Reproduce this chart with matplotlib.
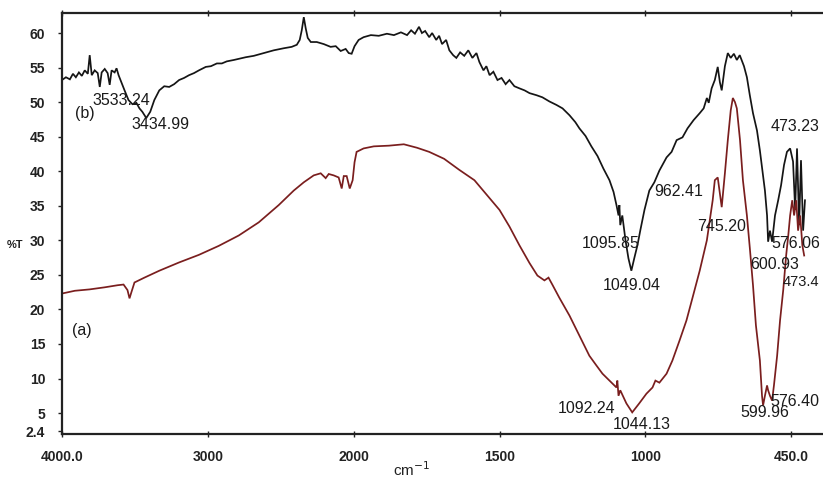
import numpy as np
import matplotlib
matplotlib.use("Agg")
import matplotlib.pyplot as plt

# ---------------- data (wavenumber cm-1, %T) ----------------
curve_b = [(4000, 53.2), (3973, 53.6), (3946, 53.3), (3925, 54.1), (3905, 53.6), (3884, 54.3),
           (3864, 53.8), (3844, 54.6), (3823, 54.1), (3810, 56.8), (3796, 53.9), (3776, 54.6),
           (3755, 54.2), (3741, 52.2), (3728, 54.3), (3707, 54.8), (3687, 54.2), (3673, 52.5),
           (3660, 54.6), (3639, 54.3), (3626, 54.9), (3612, 53.9), (3599, 53.2), (3571, 51.7),
           (3544, 50.3), (3517, 49.7), (3490, 49.9), (3469, 49.1), (3449, 48.6), (3422, 47.7),
           (3395, 48.6), (3367, 50.3), (3333, 51.7), (3299, 52.3), (3265, 52.2), (3231, 52.6),
           (3197, 53.2), (3163, 53.5), (3129, 53.9), (3095, 54.2), (3061, 54.6), (3014, 55.1),
           (2979, 55.2), (2938, 55.6), (2904, 55.6), (2870, 55.9), (2822, 56.1), (2740, 56.5),
           (2685, 56.7), (2616, 57.1), (2548, 57.5), (2479, 57.8), (2425, 58.0), (2390, 58.3),
           (2370, 59.0), (2356, 60.4), (2342, 62.3), (2329, 60.7), (2315, 59.3), (2294, 58.7),
           (2253, 58.7), (2205, 58.4), (2158, 58.0), (2123, 58.1), (2089, 57.4), (2055, 57.7),
           (2034, 57.1), (2014, 57.0), (1997, 58.1), (1983, 59.0), (1966, 59.4), (1941, 59.7),
           (1914, 59.6), (1886, 59.9), (1862, 59.7), (1838, 60.1), (1817, 59.7), (1803, 60.4),
           (1790, 59.9), (1776, 60.9), (1766, 60.0), (1755, 60.3), (1741, 59.4), (1731, 60.0),
           (1717, 59.0), (1707, 59.6), (1697, 58.4), (1683, 59.0), (1672, 57.5), (1659, 56.8),
           (1648, 56.4), (1635, 57.2), (1621, 56.7), (1607, 57.5), (1593, 56.4), (1579, 57.1),
           (1569, 55.8), (1555, 54.6), (1545, 55.2), (1534, 53.9), (1521, 54.4), (1507, 53.2),
           (1493, 53.5), (1479, 52.6), (1466, 53.2), (1449, 52.3), (1432, 52.0), (1414, 51.7),
           (1397, 51.3), (1373, 51.0), (1353, 50.7), (1329, 50.1), (1305, 49.6), (1284, 49.1),
           (1260, 48.1), (1240, 47.1), (1226, 46.2), (1205, 45.1), (1185, 43.6), (1164, 42.2),
           (1144, 40.4), (1123, 38.7), (1109, 37.0), (1099, 35.1), (1092, 33.6), (1089, 35.1),
           (1086, 32.2), (1079, 33.6), (1068, 30.0), (1058, 27.4), (1048, 25.6), (1038, 27.4),
           (1027, 29.3), (1017, 31.5), (1003, 34.4), (985, 37.2), (966, 38.4), (947, 40.1),
           (920, 42.0), (901, 42.8), (882, 44.5), (860, 44.9), (841, 46.2), (818, 47.4),
           (795, 48.4), (780, 49.1), (768, 50.6), (761, 49.9), (750, 52.0), (738, 53.2),
           (727, 55.1), (719, 52.9), (712, 51.7), (700, 55.2), (689, 57.1), (678, 56.4),
           (666, 57.0), (655, 56.1), (644, 56.8), (628, 55.2), (617, 53.6), (606, 51.0),
           (594, 48.4), (579, 45.9), (568, 43.0), (556, 39.4), (549, 37.2), (541, 33.6),
           (537, 29.8), (530, 31.4), (522, 29.8), (511, 33.6), (499, 35.8), (488, 38.0),
           (477, 40.9), (466, 42.8), (454, 43.3), (443, 41.4), (435, 34.4), (428, 43.3),
           (420, 32.2), (413, 41.6), (405, 31.4), (398, 35.8)]

curve_a = [(4000, 22.3), (3912, 22.7), (3810, 22.9), (3707, 23.2), (3619, 23.5), (3578, 23.6),
           (3551, 22.8), (3537, 21.6), (3524, 22.5), (3503, 23.9), (3435, 24.6), (3333, 25.6),
           (3197, 26.8), (3061, 27.9), (2925, 29.2), (2788, 30.7), (2651, 32.6), (2514, 35.1),
           (2411, 37.2), (2342, 38.4), (2274, 39.4), (2226, 39.7), (2192, 39.0), (2171, 39.6),
           (2137, 39.4), (2103, 39.1), (2082, 37.5), (2068, 39.3), (2048, 39.3), (2027, 37.5),
           (2007, 38.7), (1997, 41.3), (1990, 42.8), (1966, 43.3), (1931, 43.6), (1879, 43.7),
           (1828, 43.9), (1783, 43.4), (1741, 42.8), (1690, 41.8), (1638, 40.2), (1586, 38.7),
           (1534, 36.1), (1500, 34.4), (1466, 32.0), (1432, 29.3), (1397, 26.7), (1370, 24.9),
           (1346, 24.2), (1332, 24.6), (1319, 23.6), (1295, 21.7), (1260, 19.1), (1226, 16.2),
           (1192, 13.3), (1168, 11.9), (1147, 10.7), (1123, 9.7), (1099, 8.7), (1096, 9.7),
           (1092, 7.5), (1086, 8.3), (1065, 6.4), (1045, 5.1), (1021, 6.4), (996, 7.8),
           (973, 8.7), (962, 9.7), (947, 9.4), (920, 10.7), (898, 12.6), (871, 15.5),
           (845, 18.4), (822, 21.7), (795, 25.6), (768, 30.0), (757, 32.9), (746, 35.8),
           (738, 38.7), (727, 39.1), (712, 34.8), (700, 39.7), (689, 44.5), (678, 48.8),
           (670, 50.6), (662, 50.0), (655, 49.1), (643, 44.5), (632, 38.7), (617, 33.6),
           (606, 28.9), (594, 23.5), (583, 17.7), (568, 12.6), (560, 7.5), (556, 6.1),
           (549, 7.5), (541, 9.0), (537, 8.3), (530, 7.5), (522, 6.8), (515, 9.0),
           (503, 13.3), (492, 18.4), (480, 22.8), (469, 27.8), (461, 30.7), (454, 33.6),
           (446, 35.8), (439, 33.6), (431, 35.8), (424, 31.4), (416, 33.6), (408, 29.3),
           (401, 27.8)]

xtick_values = [4000, 3000, 2000, 1500, 1000, 450]
xtick_labels = ["4000.0", "3000", "2000", "1500", "1000", "450.0"]
ytick_values = [2.4, 5, 10, 15, 20, 25, 30, 35, 40, 45, 50, 55, 60]
ytick_labels = ["2.4", "5", "10", "15", "20", "25", "30", "35", "40", "45", "50", "55", "60"]

# peak annotations: (text, wavenumber position, %T position, font size)
peak_labels = [("(b)", 3912, 48.4, 11.5), ("3533.24", 3789, 50.3, 11.5), ("3434.99", 3524, 46.7, 11.5),
               ("(a)", 3932, 17.0, 11.5),
               ("1095.85", 1219, 29.6, 11.5), ("1049.04", 1147, 23.5, 11.5), ("962.41", 966, 37.1, 11.5),
               ("745.20", 803, 32.0, 11.5), ("576.06", 525, 29.6, 11.5), ("600.93", 606, 26.5, 11.5),
               ("473.4", 482, 24.0, 10.5), ("473.23", 529, 46.5, 11.5),
               ("1092.24", 1301, 5.65, 11.5), ("1044.13", 1113, 3.3, 11.5), ("599.96", 643, 5.1, 11.5),
               ("576.40", 527, 6.7, 11.5)]

# ---------------- piecewise wavenumber scale ----------------
knots_wn = np.array([450.0, 1000.0, 1500.0, 2000.0, 3000.0, 4000.0])
knots_u = np.arange(len(knots_wn), dtype=float)


def fwd(w):
    w = np.asarray(w, dtype=float)
    u = np.interp(w, knots_wn, knots_u)
    u = np.where(w < 450, (w - 450) / 550.0, u)
    u = np.where(w > 4000, 5 + (w - 4000) / 1000.0, u)
    return u


def inv(u):
    u = np.asarray(u, dtype=float)
    w = np.interp(u, knots_u, knots_wn)
    w = np.where(u < 0, 450 + u * 550.0, w)
    w = np.where(u > 5, 4000 + (u - 5) * 1000.0, w)
    return w


W, H = 823, 483
fig = plt.figure(figsize=(W / 100, H / 100), dpi=100)
fig.patch.set_facecolor("white")
ax = fig.add_axes([62 / W, 1 - 434 / H, (W - 62) / W, (434 - 13) / H])
ax.set_xscale("function", functions=(fwd, inv))

bw, bt = zip(*curve_b)
aw, at = zip(*curve_a)
ax.plot(bw, bt, color="#151515", lw=1.25, solid_joinstyle="miter")
ax.plot(aw, at, color="#7a1e1e", lw=1.25, solid_joinstyle="miter")

ax.set_xlim(4000, 330)
ax.set_ylim(1.97, 62.9)

tick_font = dict(family="Liberation Sans", weight="bold", size=10)
ax.set_xticks(xtick_values)
ax.set_xticklabels(xtick_labels, **tick_font)
ax.set_yticks(ytick_values)
ax.set_yticklabels(ytick_labels, **tick_font)
ax.xaxis.set_minor_locator(matplotlib.ticker.NullLocator())
ax.tick_params(axis="x", direction="inout", length=5, width=1.0, pad=9, top=True, colors="#222222")
ax.tick_params(axis="y", direction="out", length=3, width=1.0, pad=9, colors="#222222")

for side in ("left", "bottom", "top"):
    ax.spines[side].set_linewidth(1.6)
    ax.spines[side].set_color("#222222")
ax.spines["right"].set_visible(False)

for txt, xw, yt, fs in peak_labels:
    ax.text(xw, yt, txt, ha="left", va="center", family="Liberation Sans", size=fs,
            color="#1a1a1a")

fig.text(7 / W, 1 - 245 / H, "%T", ha="left", va="center", family="Liberation Sans",
         weight="bold", size=8, color="#222222")
fig.text(412 / W, 1 - 470 / H, "cm$^{-1}$", ha="center", va="center",
         family="Liberation Sans", size=11, color="#222222")

fig.savefig("out.png", dpi=100)
